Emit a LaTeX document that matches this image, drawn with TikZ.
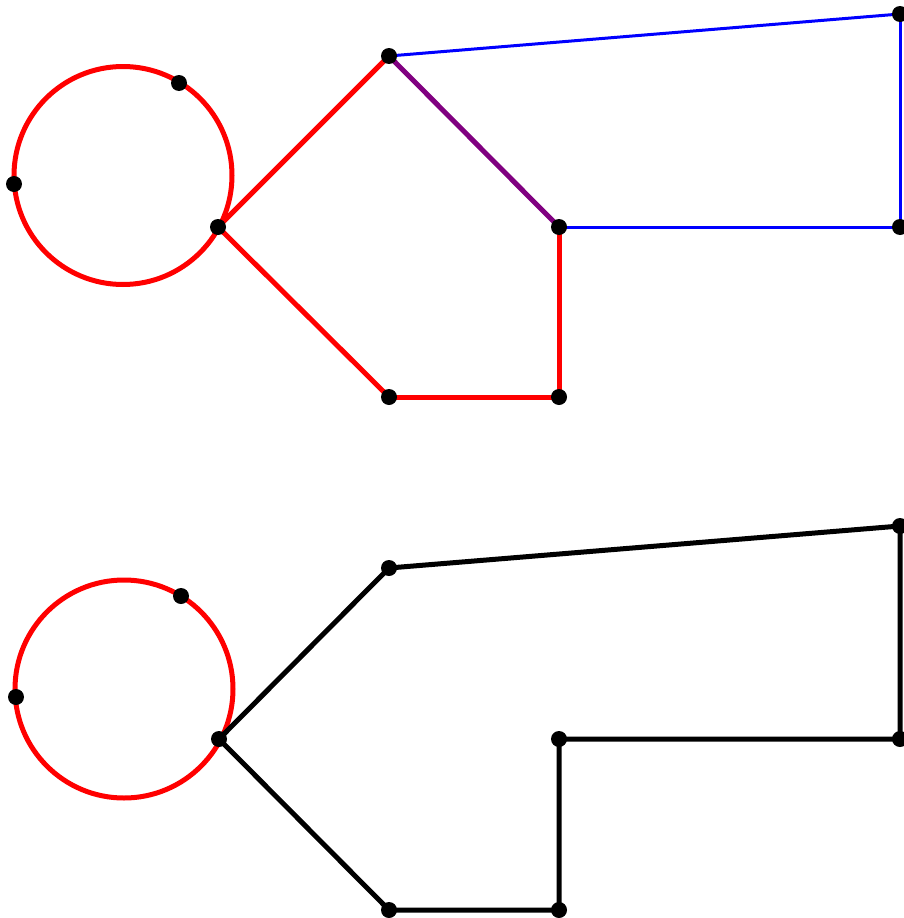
\documentclass[tikz,border=0pt]{standalone}
\usetikzlibrary{backgrounds}
\definecolor{edgepurple}{RGB}{128,0,128}
\tikzset{
  dot/.style={circle, fill=black, inner sep=0pt, minimum size=16pt},
  ring/.style={draw=red, line width=5pt},
  redline/.style={draw=red, line width=5pt},
  purpleline/.style={draw=edgepurple, line width=5pt},
  blueline/.style={draw=blue, line width=3pt},
  blackline/.style={draw=black, line width=5pt, line join=round},
}
\begin{document}
\begin{tikzpicture}[x=1pt, y=-1pt]
\useasboundingbox (0,0) rectangle (903,918);

% upper graph: nodes
\node[dot] (a1) at (179,83) {};
\node[dot] (a2) at (14,184) {};
\node[dot] (a3) at (218,227) {};
\node[dot] (a4) at (389,56) {};
\node[dot] (a5) at (559,227) {};
\node[dot] (a6) at (389,397) {};
\node[dot] (a7) at (559,397) {};
\node[dot] (a8) at (900,14) {};
\node[dot] (a9) at (900,227) {};

% lower graph: nodes
\node[dot] (b1) at (181,596) {};
\node[dot] (b2) at (16,697) {};
\node[dot] (b3) at (219,739) {};
\node[dot] (b4) at (389,568) {};
\node[dot] (b5) at (559,739) {};
\node[dot] (b6) at (389,910) {};
\node[dot] (b7) at (559,910) {};
\node[dot] (b8) at (900,526) {};
\node[dot] (b9) at (900,739) {};

\begin{pgfonlayer}{background}
  % upper graph: edges
  \draw[ring] (123,175.5) circle[radius=109];
  \draw[redline] (a3.center) -- (a4.center);
  \draw[redline] (a3.center) -- (a6.center);
  \draw[redline] (a6.center) -- (a7.center);
  \draw[redline] (a7.center) -- (a5.center);
  \draw[purpleline] (a4.center) -- (a5.center);
  \draw[blueline] (a4.center) -- (a8.center);
  \draw[blueline] (a8.center) -- (a9.center);
  \draw[blueline] (a9.center) -- (a5.center);

  % lower graph: edges
  \draw[ring] (124,689) circle[radius=109];
  \draw[blackline] (b3.center) -- (b4.center);
  \draw[blackline] (b3.center) -- (b6.center);
  \draw[blackline] (b6.center) -- (b7.center) -- (b5.center) -- (b9.center) -- (b8.center) -- (b4.center);
\end{pgfonlayer}
\end{tikzpicture}
\end{document}
